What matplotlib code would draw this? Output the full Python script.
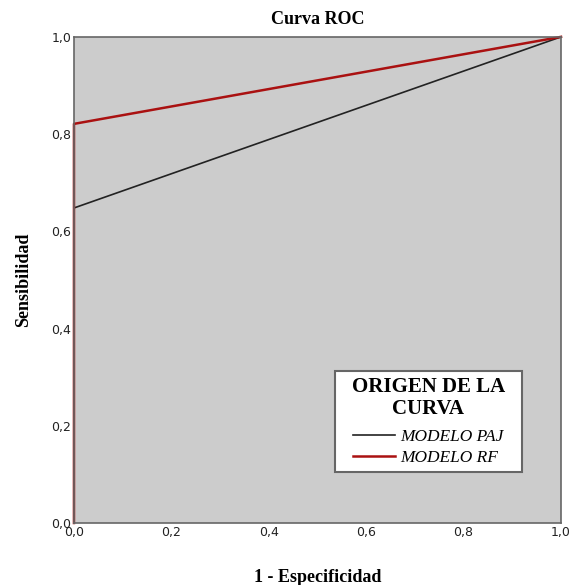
import matplotlib
matplotlib.use("Agg")
import matplotlib.pyplot as plt
from matplotlib.path import Path
from matplotlib.ticker import FuncFormatter

# Datos de las curvas ROC (1 - especificidad, sensibilidad)
paj_x = [0.0, 0.0, 1.0]
paj_y = [0.0, 0.648, 1.0]
rf_x = [0.0, 0.0, 1.0]
rf_y = [0.0, 0.821, 1.0]
ticks = [0.0, 0.2, 0.4, 0.6, 0.8, 1.0]


def caja_ancha(x0, y0, width, height, mutation_size):
    # marco con mas relleno a los lados que arriba/abajo
    dx = 0.66 * mutation_size
    x1, y1 = x0 + width + dx, y0 + height
    x0 = x0 - dx
    return Path([(x0, y0), (x1, y0), (x1, y1), (x0, y1), (x0, y0)], closed=True)


fig = plt.figure(figsize=(5.69, 5.85), dpi=100)
ax = fig.add_axes([0.130, 0.106, 0.856, 0.831])
ax.set_facecolor("#cccccc")

ax.plot(paj_x, paj_y, color="#222222", lw=1.2, label="MODELO PAJ", clip_on=False)
ax.plot(rf_x, rf_y, color="#aa1111", lw=1.8, label="MODELO RF", clip_on=False)

ax.set_xlim(0, 1)
ax.set_ylim(0, 1)
ax.set_xticks(ticks)
ax.set_yticks(ticks)
fmt = FuncFormatter(lambda v, p: f"{v:.1f}".replace(".", ","))
ax.xaxis.set_major_formatter(fmt)
ax.yaxis.set_major_formatter(fmt)
ax.tick_params(length=0, pad=2, labelsize=9, colors="#222222")

for s in ax.spines.values():
    s.set_color("#666666")
    s.set_linewidth(1.2)

ax.set_title("Curva ROC", family="Liberation Serif", fontweight="bold", fontsize=13, pad=9)
ax.set_xlabel("1 - Especificidad", family="Liberation Serif", fontweight="bold", fontsize=13, labelpad=22)
ax.set_ylabel("Sensibilidad", family="Liberation Serif", fontweight="bold", fontsize=13, labelpad=14)

leg = ax.legend(title="ORIGEN DE LA\nCURVA", loc="lower right", bbox_to_anchor=(0.896, 0.105),
                borderaxespad=0, alignment="center",
                prop={"family": "Liberation Serif", "style": "italic", "size": 12.5},
                title_fontproperties={"family": "Liberation Serif", "weight": "bold", "size": 15},
                fancybox=False, framealpha=1, edgecolor="#666666", handlelength=2.4,
                handletextpad=0.3, borderpad=0.32, labelspacing=0.3)
leg.get_title().set_multialignment("center")
leg.get_title().set_linespacing(1.15)
leg._legend_box.sep = 7
leg.get_frame().set_boxstyle(caja_ancha)
leg.get_frame().set_linewidth(1.5)

fig.savefig("out.png", dpi=100)
